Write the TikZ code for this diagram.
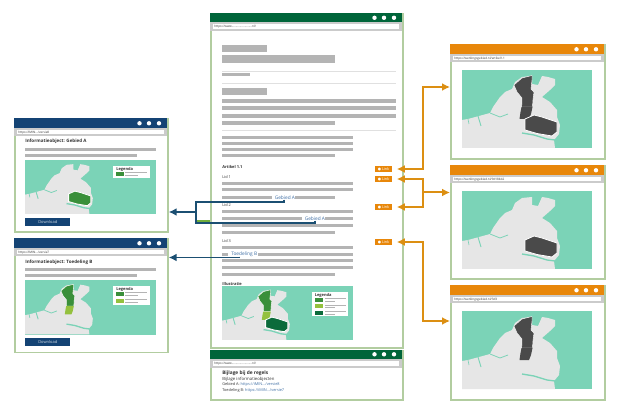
\documentclass[tikz,border=0pt]{standalone}
\usepackage{fontspec}
\setmainfont{Open Sans}
\newfontfamily\symboolfont{DejaVu Sans}
\usetikzlibrary{arrows.meta}

\definecolor{kopgroen}{HTML}{00653A}
\definecolor{kopblauw}{HTML}{144374}
\definecolor{koporanje}{HTML}{E8870A}
\definecolor{pijloranje}{HTML}{DC8F12}
\definecolor{pijlblauw}{HTML}{1B4F72}
\definecolor{rand}{HTML}{B2CDA0}
\definecolor{balk}{HTML}{CBCBCB}
\definecolor{regel}{HTML}{B4B4B4}
\definecolor{zee}{HTML}{7BD3B7}
\definecolor{land}{HTML}{E6E6E6}
\definecolor{donker}{HTML}{4A4A4A}
\definecolor{middengroen}{HTML}{3A8F3A}
\definecolor{lichtgroen}{HTML}{94C13E}
\definecolor{diepgroen}{HTML}{0B6B3B}
\definecolor{linkblauw}{HTML}{3F6FA5}

\tikzset{
  venster/.style={draw=rand, line width=1.3pt, fill=white, rectangle, inner sep=0pt, anchor=north west},
  regelbalk/.style={fill=regel, draw=none},
  tekstje/.style={font=\fontsize{2.9}{3.5}\selectfont, inner sep=0pt, anchor=west, text=black!80},
  vet/.style={tekstje, font=\fontsize{3}{3.5}\selectfont\bfseries},
  linktekst/.style={tekstje, text=linkblauw},
  linkknop/.style={fill=koporanje, text=white, font=\fontsize{2.8}{3}\selectfont, minimum width=12.75pt, minimum height=4.5pt, inner sep=0pt},
  downloadknop/.style={fill=kopblauw, text=white!80!kopblauw, font=\fontsize{3}{3.5}\selectfont, minimum width=33.75pt, minimum height=6pt, inner sep=0pt, anchor=north west},
  oranjepijl/.style={draw=pijloranje, line width=1.5pt, -{Latex[length=6pt,width=6pt]}},
  tweepijl/.style={draw=pijloranje, line width=1.5pt, {Latex[length=6pt,width=6pt]}-{Latex[length=6pt,width=6pt]}},
  blauwepijl/.style={draw=pijlblauw, line width=1.2pt, -{Latex[length=6pt,width=6pt]}},
  blauwlijn/.style={draw=pijlblauw, line width=1.2pt}
}

% window: name, x, y, width, height, bar colour, url
\newcommand{\browser}[7]{
  \node[venster, minimum width=#4*0.75pt, minimum height=#5*0.75pt] (#1) at (#2,#3) {};
  \fill[#6] (#2,#3) rectangle ++(#4,9.5);
  \fill[balk] (#2,#3+9.5) rectangle ++(#4,8.5);
  \fill[white] (#2+3,#3+11.5) rectangle ++(#4-6,4.5);
  \node[tekstje, font=\fontsize{2.3}{3}\selectfont] at (#2+4,#3+13.8) {#7};
  \foreach \dx in {8,18,27.5}
    \fill[white] (#2+#4-\dx,#3+4.8) circle (2.2);
}

% map: x, y, width, height (land scales with the height)
\newcommand{\kaartvlak}[4]{
  \fill[zee] (#1,#2) rectangle ++(#3,#4);
  \begin{scope}[shift={(#1,#2)}, x=#4/78*0.75pt, y=-#4/78*0.75pt]
    \fill[land] (0,78) -- (0,50) -- (6,49) -- (17,46) -- (28,43) -- (31,37) -- (38,27) -- (43,22)
      -- (50,19) -- (53,12) -- (60,7) -- (70,6) -- (70,14) -- (76,15) -- (80,6) -- (86,7)
      -- (93,9) -- (93,15) -- (88,20) -- (80,27) -- (88,32) -- (95,40) -- (95,47) -- (98,55)
      -- (97,64) -- (92,70) -- (93,78) -- cycle;
    \draw[zee, line width=0.5pt] (6,49) -- (7,54);
    \draw[zee, line width=0.7pt] (16,46) -- (19,56);
    \draw[zee, line width=0.6pt] (28,43) -- (38,47) -- (46,44);
    \draw[zee, line width=1pt] (60,63) -- (72,65) -- (85,69) -- (93,70);
  \end{scope}
}
\newcommand{\noordboven}[1]{
  \fill[#1, draw=white, line width=0.3pt] (52,15) -- (60,8) -- (70,5.5) -- (70,10) -- (69,19) -- (72,22) -- (71,29)
    -- (70.5,37) -- (59.5,37) -- (60,34) -- (60,28) -- (55,22) -- cycle;
}
\newcommand{\noordonder}[1]{
  \fill[#1] (59.5,37) -- (70.5,37) -- (69,44) -- (67,49) -- (57.5,49) -- (58.5,42) -- cycle;
}
\newcommand{\zuid}[1]{
  \fill[#1, draw=white, line width=0.6pt] (63,49) -- (72,45) -- (80,47) -- (95,52) -- (95,62) -- (90,66)
    -- (75,63.5) -- (63,60) -- cycle;
}

\begin{document}
\begin{tikzpicture}[x=0.75pt, y=-0.75pt]
  \useasboundingbox (0,0) rectangle (626,410);

  % middle
  \browser{hoofd}{210}{13}{192}{334}{kopgroen}{https://www.........................nl/}
  \fill[regelbalk] (222,45) rectangle (267,52);
  \fill[regelbalk] (222,55) rectangle (335,63);
  \fill[regelbalk] (222,73) rectangle (250,76.5);
  \fill[regelbalk] (222,88) rectangle (267,95);
  \foreach \y in {71,83,130.5}
    \draw[black!12, line width=0.5pt] (222,\y) -- (396,\y);
  \foreach \y/\e in {101/396,108.5/396,116/396,123.5/335}
    \fill[regelbalk] (222,\y-2) rectangle (\e,\y+2);
  \foreach \y/\b/\e in {137.5/222/353,143.5/222/353,149.5/222/353,155.5/222/335,
      183.5/222/353,190/222/353,198/222/272,198/295/335,
      212/222/353,219/222/302,219/325/353,226/222/353,233/222/335,
      248/222/353,254.5/222/228,254.5/258/353,261/222/353,268/222/353,275/222/335}
    \fill[regelbalk] (\b,\y-1.5) rectangle (\e,\y+1.5);
  \node[vet] (artikel) at (222,167) {Artikel 1.1};
  \node[tekstje] (lideen) at (222,177) {Lid 1};
  \node[tekstje] (lidtwee) at (222,205.5) {Lid 2};
  \node[tekstje] (liddrie) at (222,241) {Lid 3};
  \node[linktekst, font=\fontsize{3.6}{4}\selectfont] (gebiedeen) at (274.5,197.5) {Gebied A};
  \node[linktekst, font=\fontsize{3.6}{4}\selectfont] (gebiedtwee) at (304.5,218.5) {Gebied A};
  \node[linktekst, font=\fontsize{3.6}{4}\selectfont] (toedeling) at (231,254) {Toedeling B};
  \node[vet] (illustratie) at (222,284) {Illustratie};

  \kaartvlak{222}{286}{131}{54}
  \begin{scope}[shift={(222,286)}, x=54/78*0.75pt, y=-54/78*0.75pt]
    \noordboven{middengroen}
    \noordonder{lichtgroen}
    \zuid{diepgroen}
  \end{scope}
  \fill[white] (312,292) rectangle (348,316.5);
  \node[vet] at (314.5,295) {Legenda};
  \foreach \y/\c in {298/middengroen,304.5/lichtgroen,311/diepgroen}{
    \fill[\c] (314.5,\y) rectangle (323,\y+4);
    \fill[regelbalk] (324.5,\y+0.5) rectangle (346,\y+1.4);
    \fill[regelbalk] (324.5,\y+2.6) rectangle (335,\y+3.4);
  }

  \node[linkknop] (linkeen) at (383.5,169) {{\symboolfont ●} Link};
  \node[linkknop] (linktwee) at (383.5,179) {{\symboolfont ●} Link};
  \node[linkknop] (linkdrie) at (383.5,207) {{\symboolfont ●} Link};
  \node[linkknop] (linkvier) at (383.5,242) {{\symboolfont ●} Link};

  % bijlage
  \browser{bijlage}{210}{349.5}{192}{49.5}{kopgroen}{https://www.........................nl/}
  \node[vet, font=\fontsize{3.6}{4}\selectfont\bfseries] (bijlagekop) at (222,373.5) {Bijlage bij de regels};
  \node[tekstje, font=\fontsize{3.2}{4}\selectfont] at (222,379) {Bijlage informatieobjecten};
  \node[tekstje] (rijeen) at (222,384.5) {Gebied A: \textcolor{linkblauw}{https://iMIN.../versie8}};
  \node[tekstje] (rijtwee) at (222,390) {Toedeling B: \textcolor{linkblauw}{https://iMIN.../versie7}};

  % left
  \browser{linksboven}{14}{118.5}{153}{113}{kopblauw}{https://iMIN.../versie8}
  \node[vet, font=\fontsize{3.4}{4}\selectfont\bfseries] at (25,141.5) {Informatieobject: Gebied A};
  \fill[regelbalk] (25,148) rectangle (156,151);
  \fill[regelbalk] (25,154) rectangle (137,157);
  \kaartvlak{25}{160}{131}{54}
  \begin{scope}[shift={(25,160)}, x=54/78*0.75pt, y=-54/78*0.75pt]
    \zuid{middengroen}
  \end{scope}
  \fill[white] (113,166) rectangle (150,178);
  \node[vet] at (116,169) {Legenda};
  \fill[middengroen] (116,172) rectangle (124,176);
  \fill[regelbalk] (125,172.4) rectangle (147,173.3);
  \fill[regelbalk] (125,175) rectangle (138,175.8);
  \node[downloadknop] (downloadeen) at (25,217.5) {Download};

  \browser{linksonder}{14}{238.5}{153}{113}{kopblauw}{https://iMIN.../versie7}
  \node[vet, font=\fontsize{3.4}{4}\selectfont\bfseries] at (25,262) {Informatieobject: Toedeling B};
  \fill[regelbalk] (25,268.5) rectangle (156,271.5);
  \fill[regelbalk] (25,274.5) rectangle (137,277.5);
  \kaartvlak{25}{280.5}{131}{54}
  \begin{scope}[shift={(25,280.5)}, x=54/78*0.75pt, y=-54/78*0.75pt]
    \noordboven{middengroen}
    \noordonder{lichtgroen}
  \end{scope}
  \fill[white] (113,286) rectangle (150,305);
  \node[vet] at (116,289.5) {Legenda};
  \foreach \y/\c in {292/middengroen,299/lichtgroen}{
    \fill[\c] (116,\y) rectangle (124,\y+4);
    \fill[regelbalk] (125,\y+0.4) rectangle (147,\y+1.3);
    \fill[regelbalk] (125,\y+3) rectangle (138,\y+3.8);
  }
  \node[downloadknop] (downloadtwee) at (25,337.5) {Download};

  % right
  \browser{rechtsboven}{450}{44.5}{154}{113.5}{koporanje}{https://werkingsgebied.nl/artikel1.1}
  \kaartvlak{462}{70}{130}{78}
  \begin{scope}[shift={(462,70)}, x=0.75pt, y=-0.75pt]
    \noordboven{donker}
    \noordonder{donker}
    \zuid{donker}
  \end{scope}

  \browser{rechtsmidden}{450}{165.5}{154}{113}{koporanje}{https://werkingsgebied.nl/9d18b42}
  \kaartvlak{462}{191}{130}{78}
  \begin{scope}[shift={(462,191)}, x=0.75pt, y=-0.75pt]
    \zuid{donker}
  \end{scope}

  \browser{rechtsonder}{450}{285.5}{154}{113.5}{koporanje}{https://werkingsgebied.nl/3d3}
  \kaartvlak{462}{311}{130}{78}
  \begin{scope}[shift={(462,311)}, x=0.75pt, y=-0.75pt]
    \noordboven{donker}
    \noordonder{donker}
  \end{scope}

  % connectors
  \coordinate (busboven) at (423,87);
  \coordinate (busmidden) at (423,192.5);
  \coordinate (busonder) at (423,321);
  \coordinate (blauwsplit) at (196,212);
  \coordinate (hoekeen) at (284,202);
  \coordinate (hoektwee) at (315,223);
  \coordinate (hoekdrie) at (239,257.5);

  \draw[tweepijl, shorten <=3.4pt] (linkeen.east) -| (busboven) -- (busboven -| rechtsboven.west);
  \draw[tweepijl, shorten <=3.4pt, shorten >=3.4pt] (linktwee.east) -| (busmidden) |- (linkdrie.east);
  \draw[oranjepijl] (busmidden) -- (busmidden -| rechtsmidden.west);
  \draw[tweepijl, shorten <=3.4pt] (linkvier.east) -| (busonder) -- (busonder -| rechtsonder.west);

  \fill[lichtgroen!60!middengroen] (197,220) rectangle (210,222);
  \draw[blauwlijn] (hoekeen |- gebiedeen.south) -- (hoekeen) -| (blauwsplit);
  \draw[blauwlijn] (hoektwee |- gebiedtwee.south) -- (hoektwee) -| (blauwsplit);
  \draw[blauwepijl] (blauwsplit) -- (blauwsplit -| linksboven.east);
  \draw[blauwepijl] (hoekdrie |- toedeling.south) -- (hoekdrie) -- (hoekdrie -| linksonder.east);
\end{tikzpicture}
\end{document}
